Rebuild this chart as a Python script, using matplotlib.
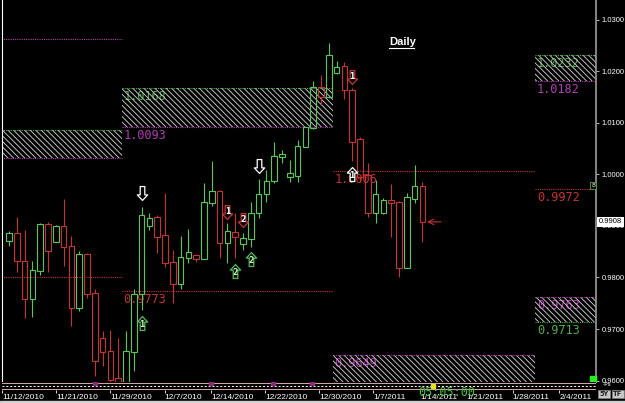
import matplotlib
matplotlib.use("Agg")
import matplotlib.pyplot as plt
from matplotlib.patches import Rectangle
from matplotlib.path import Path
from matplotlib.lines import Line2D
import numpy as np
import pandas as pd

# daily bars (Sunday..Friday sessions), first bar on 2010-11-14
first_bar = "2010-11-14"
opens = [0.9871, 0.9887, 0.9832, 0.9759, 0.9813, 0.9904, 0.9869, 0.9900, 0.9862, 0.9741,
         0.9846, 0.9770, 0.9683, 0.9658, 0.9605, 0.9597, 0.9656, 0.9767, 0.9900, 0.9918,
         0.9883, 0.9831, 0.9788, 0.9838, 0.9844, 0.9836, 0.9945, 0.9968, 0.9867, 0.9889,
         0.9865, 0.9875, 0.9926, 0.9962, 0.9988, 1.0034, 0.9995, 0.9997, 1.0054, 1.0090,
         1.0170, 1.0151, 1.0197, 1.0211, 1.0164, 1.0069, 0.9999, 0.9926, 0.9926, 0.9951,
         0.9947, 0.9819, 0.9953, 0.9978]
highs = [0.9891, 0.9918, 0.9893, 0.9832, 0.9906, 0.9908, 0.9901, 0.9953, 0.9881, 0.9852,
         0.9847, 0.9778, 0.9697, 0.9698, 0.9683, 0.9697, 0.9778, 0.9937, 0.9926, 0.9922,
         0.9964, 0.9854, 0.9881, 0.9895, 0.9845, 0.9984, 1.0026, 0.9970, 0.9906, 0.9926,
         0.9887, 0.9947, 0.9992, 1.0009, 1.0063, 1.0048, 1.0028, 1.0067, 1.0093, 1.0182,
         1.0193, 1.0255, 1.0220, 1.0218, 1.0168, 1.0073, 1.0023, 0.9990, 0.9955, 0.9982,
         0.9948, 0.9964, 1.0019, 0.9986]
lows = [0.9862, 0.9811, 0.9722, 0.9724, 0.9805, 0.9811, 0.9868, 0.9823, 0.9706, 0.9735,
        0.9761, 0.9609, 0.9629, 0.9585, 0.9580, 0.9580, 0.9619, 0.9737, 0.9893, 0.9848,
        0.9821, 0.9751, 0.9778, 0.9829, 0.9831, 0.9835, 0.9939, 0.9838, 0.9829, 0.9838,
        0.9854, 0.9860, 0.9916, 0.9947, 0.9984, 1.0023, 0.9986, 0.9986, 1.0053, 1.0089,
        1.0135, 1.0149, 1.0196, 1.0147, 1.0026, 0.9986, 0.9918, 0.9906, 0.9924, 0.9879,
        0.9800, 0.9818, 0.9945, 0.9869]
closes = [0.9887, 0.9832, 0.9759, 0.9815, 0.9904, 0.9852, 0.9900, 0.9860, 0.9741, 0.9846,
          0.9768, 0.9638, 0.9656, 0.9601, 0.9598, 0.9658, 0.9768, 0.9922, 0.9916, 0.9879,
          0.9829, 0.9788, 0.9840, 0.9850, 0.9836, 0.9947, 0.9968, 0.9867, 0.9891, 0.9879,
          0.9877, 0.9926, 0.9962, 0.9988, 1.0036, 1.0040, 1.0003, 1.0056, 1.0092, 1.0170,
          1.0151, 1.0232, 1.0209, 1.0164, 1.0063, 0.9995, 0.9926, 0.9962, 0.9951, 0.9945,
          0.9819, 0.9957, 0.9978, 0.9908]

# monthly levels
month_starts = ["2010-11-01", "2010-12-01", "2011-01-01", "2011-02-01", "2011-03-01"]
pivot = [0.9801, 0.9773, 1.0006, 0.9972]
upper_top = [1.0087, 1.0168, np.nan, 1.0232]
upper_bot = [1.0032, 1.0093, np.nan, 1.0182]
lower_top = [np.nan, np.nan, 0.9649, 0.9763]
lower_bot = [np.nan, np.nan, 0.9590, 0.9713]
extra_level = [1.0263, np.nan, np.nan, np.nan]

date_ticks = ["2010-11-12", "2010-11-21", "2010-11-29", "2010-12-07", "2010-12-14",
              "2010-12-22", "2010-12-30", "2011-01-07", "2011-01-14", "2011-01-21",
              "2011-01-28", "2011-02-04"]
price_ticks = [1.03, 1.02, 1.01, 1.00, 0.99, 0.98, 0.97, 0.96]

# signal arrows: bar index, price, direction, digit, colour
sig_bar = [17, 32, 17, 29, 31, 28, 30, 44, 44]
sig_price = [0.9964, 1.0017, 0.9712, 0.9813, 0.9836, 0.9928, 0.9912, 1.0189, 1.0001]
sig_dir = ["down", "down", "up", "up", "up", "down", "down", "down", "up"]
sig_text = ["", "", "1", "2", "2", "1", "2", "1", "1"]
sig_color = ["white", "white", "#4cc04c", "#4cc04c", "#4cc04c", "#c83232", "#c83232", "#c83232", "white"]

GREEN = "#55c855"
RED = "#c83232"
ZGREEN = "#4cae4c"
PURPLE = "#b43cb4"
HATCH = "\\\\\\\\\\\\"

days = pd.date_range("2010-11-01", "2011-03-05")
days = days[days.dayofweek != 5]
base = days.searchsorted(pd.Timestamp(first_bar))


def pos(d):
    return days.searchsorted(pd.Timestamp(d)) - base


W, H = 625, 403
fig = plt.figure(figsize=(W / 100, H / 100), dpi=100, facecolor="black")
plt.rcParams["hatch.linewidth"] = 0.6
ax = fig.add_axes([2 / W, 1 - 382 / H, 594 / W, 382 / H])
ax.set_facecolor("black")
ax.set_xlim(-0.9, 75.26)
ax.set_ylim(0.95971, 1.03388)

# monthly zones
bounds = [pos(d) - 0.5 for d in month_starts]
lab_font = dict(family="DejaVu Sans Mono", fontsize=8.6, clip_on=True)
dot = (0, (1, 1))
for i in range(len(pivot)):
    x0, x1 = bounds[i], bounds[i + 1]
    ax.hlines(pivot[i], x0, x1, colors=RED, linestyles=dot, lw=0.8, zorder=2)
    ax.annotate(f"{pivot[i]:.4f}", (x0, pivot[i]), xytext=(1, -1.5), textcoords="offset points",
                va="top", ha="left", color=RED, zorder=1, **lab_font)
    if not np.isnan(extra_level[i]):
        ax.hlines(extra_level[i], x0, x1, colors=PURPLE, linestyles=dot, lw=0.8, zorder=2)
    if not np.isnan(upper_top[i]):
        ax.add_patch(Rectangle((x0, upper_bot[i]), x1 - x0, upper_top[i] - upper_bot[i],
                               facecolor="none", edgecolor="#d8d8d8", hatch=HATCH, lw=0, zorder=1.5))
        ax.hlines(upper_top[i], x0, x1, colors=ZGREEN, linestyles=dot, lw=0.8, zorder=2)
        ax.hlines(upper_bot[i], x0, x1, colors=PURPLE, linestyles=dot, lw=0.8, zorder=2)
        ax.annotate(f"{upper_top[i]:.4f}", (x0, upper_top[i]), xytext=(1, -1.5), textcoords="offset points",
                    va="top", ha="left", color=ZGREEN, zorder=1, **lab_font)
        ax.annotate(f"{upper_bot[i]:.4f}", (x0, upper_bot[i]), xytext=(1, -1.5), textcoords="offset points",
                    va="top", ha="left", color=PURPLE, zorder=1, **lab_font)
    if not np.isnan(lower_top[i]):
        ax.add_patch(Rectangle((x0, lower_bot[i]), x1 - x0, lower_top[i] - lower_bot[i],
                               facecolor="none", edgecolor="#d8d8d8", hatch=HATCH, lw=0, zorder=1.5))
        ax.hlines(lower_top[i], x0, x1, colors=PURPLE, linestyles=dot, lw=0.8, zorder=2)
        ax.hlines(lower_bot[i], x0, x1, colors=ZGREEN, linestyles=dot, lw=0.8, zorder=2)
        ax.annotate(f"{lower_top[i]:.4f}", (x0, lower_top[i]), xytext=(1, -1.5), textcoords="offset points",
                    va="top", ha="left", color=PURPLE, zorder=1, **lab_font)
        ax.annotate(f"{lower_bot[i]:.4f}", (x0, lower_bot[i]), xytext=(1, -1.5), textcoords="offset points",
                    va="top", ha="left", color=ZGREEN, zorder=1, **lab_font)

# candles, hollow bodies
x = np.arange(len(opens))
o, h, l, c = (np.array(v) for v in (opens, highs, lows, closes))
cols = np.where(c >= o, GREEN, RED)
top = np.maximum(o, c)
bot = np.minimum(o, c)
ax.vlines(x, top, h, colors=cols, lw=0.8, zorder=3)
ax.vlines(x, l, bot, colors=cols, lw=0.8, zorder=3)
ax.bar(x, np.maximum(top - bot, 0.00008), bottom=bot, width=0.72, facecolor="none",
       edgecolor=cols, linewidth=0.8, zorder=3)

# signal arrows
up_path = Path([(0, 1), (0.75, 0.2), (0.33, 0.2), (0.33, -1), (-0.33, -1), (-0.33, 0.2),
                (-0.75, 0.2), (0, 1)], closed=True)
down_path = Path(up_path.vertices * [1, -1], up_path.codes)
for b, p, d, t, col in zip(sig_bar, sig_price, sig_dir, sig_text, sig_color):
    ax.plot(b, p, ls="none", marker=up_path if d == "up" else down_path, ms=10,
            mfc="black", mec=col, mew=0.9, zorder=5)
    if t:
        ax.annotate(t, (b, p), xytext=(0, -1.2 if d == "up" else 0.3), textcoords="offset points",
                    ha="center", va="center", color="white" if col != "#4cc04c" else "#bff0bf",
                    fontsize=5.5, fontweight="bold", zorder=6)
ax.annotate("", xy=(53.6, closes[-1]), xytext=(55.4, closes[-1]),
            arrowprops=dict(arrowstyle="->", color=RED, lw=0.8, shrinkA=0, shrinkB=0), zorder=5)

# title
ax.text(0.6515, 0.89, "Daily", transform=ax.transAxes, color="white", fontsize=8,
        fontweight="bold", family="Liberation Sans", ha="left", va="center")
ax.add_line(Line2D([0.6515, 0.6936], [0.875, 0.875], transform=ax.transAxes, color="white", lw=0.8))

# small status marks near the axis
ax.text(74.9, 0.9978, "8", color="white", fontsize=4.5, ha="center", va="center",
        bbox=dict(boxstyle="square,pad=0.15", fc="black", ec=ZGREEN, lw=0.6), zorder=6)
ax.plot(74.9, 0.9603, "s", color="#22ee22", ms=4.5, zorder=6, clip_on=False)

# right price axis
ax.yaxis.tick_right()
ax.set_yticks(price_ticks)
ax.set_yticklabels([f"{v:.4f}" for v in price_ticks])
ax.tick_params(axis="y", colors="#d0d0d0", labelcolor="white", labelsize=5.5, length=2.5,
               width=0.6, pad=1.5)
for lbl in ax.get_yticklabels():
    lbl.set_family("Liberation Sans")
ax.set_xticks([])
for s in ("top", "bottom"):
    ax.spines[s].set_visible(False)
ax.spines["left"].set_color("white")
ax.spines["left"].set_linewidth(0.8)
ax.spines["right"].set_color("#9a9a9a")
ax.spines["right"].set_linewidth(1.2)
ax.text(1.005, closes[-1], f"{closes[-1]:.4f}", transform=ax.get_yaxis_transform(),
        color="black", fontsize=5.5, family="Liberation Sans", ha="left", va="center",
        bbox=dict(boxstyle="square,pad=0.2", fc="white", ec="none"), clip_on=False, zorder=7)

# bottom strip with date axis
sx = fig.add_axes([2 / W, 1 - 390 / H, 594 / W, 8 / H])
sx.set_facecolor("black")
sx.set_xlim(ax.get_xlim())
sx.set_ylim(0, 1)
sx.axhline(0.88, color="#d8a8a8", lw=0.7)
sx.axhline(0.5, color="white", lw=0.7, ls=(0, (2, 2)))
sx.axhline(0.1, color="#d8a8a8", lw=0.7)
sx.plot([10.5, 25.5, 33.5, 38.6], [0.88] * 4, "s", color="#8a2a7a", ms=3)
sx.plot(54.2, 0.5, "s", color="#e8e020", ms=2.5)
for s in sx.spines.values():
    s.set_visible(False)
sx.set_yticks([])
sx.set_xticks([pos(d) - 0.5 for d in date_ticks])
sx.set_xticklabels([f"{pd.Timestamp(d).month}/{pd.Timestamp(d).day}/{pd.Timestamp(d).year}"
                    for d in date_ticks])
sx.tick_params(axis="x", colors="white", length=2, width=0.6, pad=0.8, labelsize=6)
for lbl in sx.get_xticklabels():
    lbl.set_ha("left")
    lbl.set_family(["Liberation Sans Narrow", "Liberation Sans"])

fig.text(418 / W, 1 - 392 / H, "05:05:00", color="#3cc03c", fontsize=8.5, family="DejaVu Sans Mono",
         ha="left", va="center")
fig.text(603 / W, 1 - 385 / H, "-Ps", color="white", fontsize=4.2, ha="left", va="center")
fig.text(599 / W, 1 - 394 / H, "5Y", color="#202020", fontsize=4.8, fontweight="bold", ha="left",
         va="center", bbox=dict(boxstyle="square,pad=0.2", fc="#c8c8c8", ec="#808080", lw=0.5))
fig.text(613 / W, 1 - 394 / H, "TF", color="#202020", fontsize=4.8, fontweight="bold", ha="left",
         va="center", bbox=dict(boxstyle="square,pad=0.2", fc="#c8c8c8", ec="#808080", lw=0.5))
fig.add_artist(Rectangle((0, 0), 1, 2.5 / H, transform=fig.transFigure, color="#d0d0d0"))

fig.savefig("out.png", dpi=100, facecolor="black")
